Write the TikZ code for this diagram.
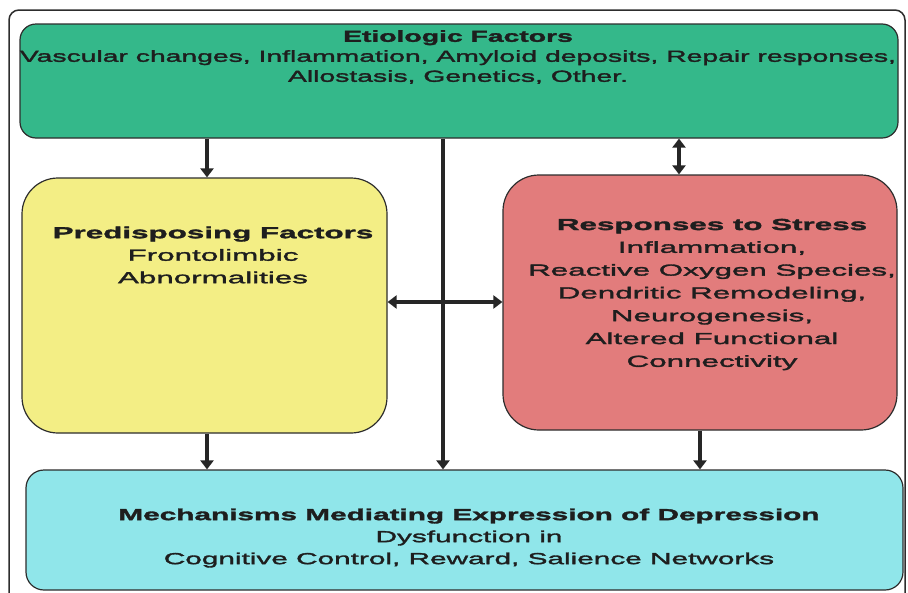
\documentclass[tikz,border=0pt]{standalone}
\usepackage{fontspec}
\setmainfont{Liberation Sans}
\newfontfamily\fgreen{Liberation Sans}[FakeStretch=1.77, FakeBold=2]
\newfontfamily\fyellow{Liberation Sans}[FakeStretch=1.96, FakeBold=2]
\newfontfamily\fred{Liberation Sans}[FakeStretch=1.96, FakeBold=2]
\newfontfamily\fcyan{Liberation Sans}[FakeStretch=1.86, FakeBold=2]
\usetikzlibrary{arrows.meta}
\definecolor{etigreen}{RGB}{52,184,138}
\definecolor{preyellow}{RGB}{243,238,133}
\definecolor{resred}{RGB}{226,124,124}
\definecolor{mechcyan}{RGB}{144,230,234}
\definecolor{inkgray}{RGB}{45,45,45}
\definecolor{textink}{RGB}{30,30,30}
\begin{document}
\begin{tikzpicture}[x=1pt,y=-1pt,
  boxshape/.style={draw=inkgray, line width=1.2pt, inner sep=0pt, rectangle},
  txt/.style={align=center, text=textink, inner sep=0pt},
  tip/.tip={Triangle[length=9pt,width=13pt]},
  arr/.style={draw=black!85, line width=3.2pt, -tip},
  darr/.style={draw=black!85, line width=3.2pt, tip-tip}]
\useasboundingbox (0,0) rectangle (908,592);
\clip (0,0) rectangle (908,592);
\fill[white] (0,0) rectangle (908,592);
% outer frame
\draw[draw=inkgray, line width=1.5pt, rounded corners=10pt] (9,640) -- (9,10) -- (905,10) -- (905,640);
% boxes
\node[boxshape, fill=etigreen, rounded corners=16pt, minimum width=878pt, minimum height=114pt] (eti) at (459,81) {};
\node[boxshape, fill=preyellow, rounded corners=36pt, minimum width=365pt, minimum height=255pt] (pre) at (204.5,305.5) {};
\node[boxshape, fill=resred, rounded corners=36pt, minimum width=394pt, minimum height=255pt] (res) at (700,302.5) {};
\node[boxshape, fill=mechcyan, rounded corners=18pt, minimum width=877pt, minimum height=120pt] (mech) at (464.5,530) {};
% texts
\node[txt, font=\fgreen\fontsize{16}{20}\selectfont] (etitxt) at (458,57) {\textbf{Etiologic Factors}\\Vascular changes, Inflammation, Amyloid deposits, Repair responses,\\Allostasis, Genetics, Other.};
\node[txt, font=\fyellow\fontsize{16}{22.5}\selectfont] (pretxt) at (213,255) {\textbf{Predisposing Factors}\\Frontolimbic\\Abnormalities};
\node[txt, font=\fred\fontsize{16}{22.8}\selectfont] (restxt) at (712,294.5) {\textbf{Responses to Stress}\\Inflammation,\\Reactive Oxygen Species,\\Dendritic Remodeling,\\Neurogenesis,\\Altered Functional\\Connectivity};
\node[txt, font=\fcyan\fontsize{16}{22}\selectfont] (mechtxt) at (469,538) {\textbf{Mechanisms Mediating Expression of Depression}\\Dysfunction in\\Cognitive Control, Reward, Salience Networks};
% arrow x positions
\coordinate (xl) at (207,0);
\coordinate (xm) at (443,0);
\coordinate (xr) at (679,0);
\coordinate (xb) at (700,0);
\coordinate (yh) at (0,302);
% connectors
\draw[arr] (eti.south -| xl) -- (pre.north -| xl);
\draw[arr] (eti.south -| xm) -- (mech.north -| xm);
\draw[darr] (eti.south -| xr) -- (res.north -| xr);
\draw[darr] (pre.east |- yh) -- (res.west |- yh);
\draw[arr] (pre.south -| xl) -- (mech.north -| xl);
\draw[arr] (res.south -| xb) -- (mech.north -| xb);
\end{tikzpicture}
\end{document}
